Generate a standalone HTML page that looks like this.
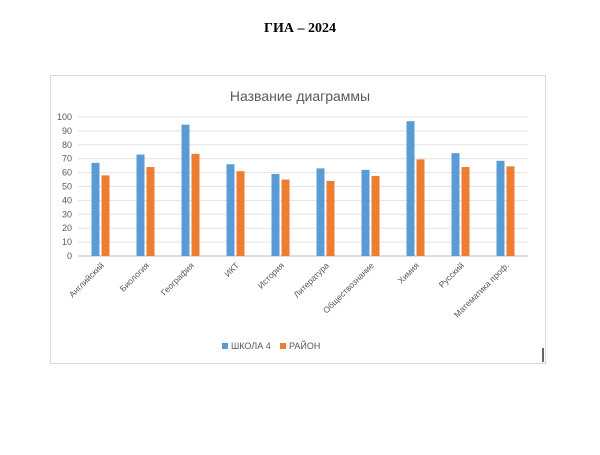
<!DOCTYPE html>
<html><head><meta charset="utf-8"><style>
body{margin:0;background:#fff;width:600px;height:450px;overflow:hidden}
</style></head><body>
<svg width="600" height="450" xmlns="http://www.w3.org/2000/svg" font-family="'Liberation Sans', sans-serif">
<text x="300" y="32" text-anchor="middle" font-family="'Liberation Serif', serif" font-weight="bold" font-size="14" fill="#000">ГИА – 2024</text>
<rect x="50.5" y="75.5" width="495" height="288" fill="#fff" stroke="#d9d9d9"/>
<line x1="543" y1="348" x2="543" y2="362" stroke="#333" stroke-width="1.5"/>
<text x="300" y="101" text-anchor="middle" font-size="14" fill="#595959">Название диаграммы</text>
<g id="grid"></g><g id="bars"></g><g id="xl"></g>
<g>
<rect x="222" y="343" width="6" height="6" fill="#5b9bd5"/>
<text x="231" y="349" font-size="9" fill="#595959">ШКОЛА 4</text>
<rect x="280" y="343" width="6" height="6" fill="#ed7d31"/>
<text x="289" y="349" font-size="9" fill="#595959">РАЙОН</text>
</g>
</svg>
<script>
const categories=["Английский","Биология","География","ИКТ","История","Литература","Обществознание","Химия","Русский","Математика проф."];
const school=[67,73,94.5,66,59,63,62,97,74,68.5];
const district=[58,64,73.5,61,55,54,57.5,69.5,64,64.5];
const ticks=[0,10,20,30,40,50,60,70,80,90,100];
const L=78,R=528,T=117,B=256;
const y=v=>B-(v/100)*(B-T);
const bw=(R-L)/categories.length;
const cx=i=>L+bw*(i+0.5);
const NS="http://www.w3.org/2000/svg";
function mk(t,a,p){const e=document.createElementNS(NS,t);for(const k in a)e.setAttribute(k,a[k]);p.appendChild(e);return e;}
const g=document.getElementById('grid'),b=document.getElementById('bars'),xl=document.getElementById('xl');
ticks.forEach(t=>{
 const ln=mk('line',{x1:L,x2:R,y1:y(t),y2:y(t),stroke:t===0?'#bfbfbf':'#e3e3e3'},g);
 
 
 const tx=mk('text',{x:L-6,y:y(t)+3,'text-anchor':'end','font-size':9,fill:'#595959'},g);
 
 
 tx.textContent=t;
});
categories.forEach((c,i)=>{
 const r1=mk('rect',{x:cx(i)-9,y:y(school[i]),width:8,height:B-y(school[i]),fill:'#5b9bd5'},b);
 
 
 const r2=mk('rect',{x:cx(i)+1,y:y(district[i]),width:8,height:B-y(district[i]),fill:'#ed7d31'},b);
 
 
 const t=mk('text',{x:cx(i)+4,y:B+10,'text-anchor':'end','font-size':8.5,fill:'#595959',transform:`rotate(-45 ${cx(i)+4} ${B+10})`},xl);
 
 
 t.textContent=c;
});
</script>
</body></html>
